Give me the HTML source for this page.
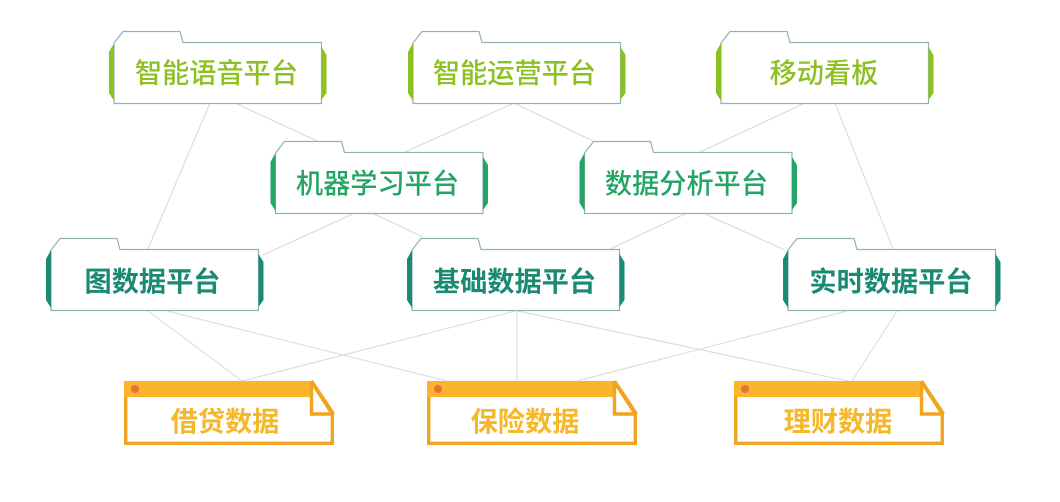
<!DOCTYPE html>
<html lang="zh">
<head>
<meta charset="utf-8">
<style>
html,body{margin:0;padding:0;background:#fff;width:1060px;height:502px;overflow:hidden}
svg{display:block}
text{font-family:"Liberation Sans","Noto Sans CJK SC",sans-serif;font-size:27.2px;text-anchor:middle}
.l{fill:#8dc021;font-weight:500}
.g{fill:#22a565;font-weight:500}
.t{fill:#1a8a73;font-weight:700}
.d{fill:#f5b82b;font-weight:700}
</style>
</head>
<body>
<svg width="1060" height="502" viewBox="0 0 1060 502" xmlns="http://www.w3.org/2000/svg">
<defs>
<g id="box">
<path d="M5,12 L14,0.5 H71 L74,11.5 H212.5 V72.5 H5 Z" fill="#fff" stroke="#8fb5b3" stroke-width="1.2"/>
<path d="M5,12 L5,70 L0,62 V21 Z M212.5,16 L217.5,24 V62 L212.5,69 Z" fill="currentColor"/>
</g>
<g id="doc">
<path d="M1.7,2 V62.3 H208.3 V33 L187.5,1" fill="#fff" stroke="#f0a41f" stroke-width="3.4"/>
<path d="M0,0 H188 V16 H0 Z" fill="#fbb42c"/>
<path d="M187.5,0 L209.5,33" fill="none" stroke="#f0a41f" stroke-width="3.4"/>
<path d="M187.5,0 V33 H210" fill="none" stroke="#f0a41f" stroke-width="3.4"/>
<circle cx="11" cy="8" r="4" fill="#e8703a"/>
</g>
</defs>
<g stroke="#d8d8d8" stroke-width="1" fill="none">
<path d="M210,103 L148,249"/>
<path d="M235,103 L317,141"/>
<path d="M514,103 L405,152"/>
<path d="M514,103 L593,141"/>
<path d="M805,103 L700,152"/>
<path d="M835,103 L893,249"/>
<path d="M355,213 L263,255"/>
<path d="M372,213 L423,237"/>
<path d="M687,213 L610,249"/>
<path d="M703,213 L785,250"/>
<path d="M148,311 L242,381"/>
<path d="M167,311 L447,381"/>
<path d="M515,311 L242,381"/>
<path d="M517,311 V381"/>
<path d="M518,311 L848,381"/>
<path d="M847,311 L577,381"/>
<path d="M897,311 L852,381"/>
</g>
<use href="#box" x="109" y="31" color="#8dc021"/>
<use href="#box" x="408" y="31" color="#8dc021"/>
<use href="#box" x="716" y="31" color="#8dc021"/>
<use href="#box" x="270.5" y="141" color="#22a565"/>
<use href="#box" x="579.5" y="141" color="#22a565"/>
<use href="#box" x="46" y="238" color="#1a8a73"/>
<use href="#box" x="407" y="238" color="#1a8a73"/>
<use href="#box" x="783" y="238" color="#1a8a73"/>
<use href="#doc" x="124" y="381"/>
<use href="#doc" x="427" y="381"/>
<use href="#doc" x="734" y="381"/>
<text class="l" x="216.5" y="82.5">智能语音平台</text>
<text class="l" x="514.5" y="82.5">智能运营平台</text>
<text class="l" x="824" y="82.5">移动看板</text>
<text class="g" x="377.5" y="193">机器学习平台</text>
<text class="g" x="686.5" y="193">数据分析平台</text>
<text class="t" x="152.5" y="291">图数据平台</text>
<text class="t" x="514.5" y="291">基础数据平台</text>
<text class="t" x="891" y="291">实时数据平台</text>
<text class="d" x="225" y="431">借贷数据</text>
<text class="d" x="525" y="431">保险数据</text>
<text class="d" x="838" y="431">理财数据</text>
</svg>
</body>
</html>
